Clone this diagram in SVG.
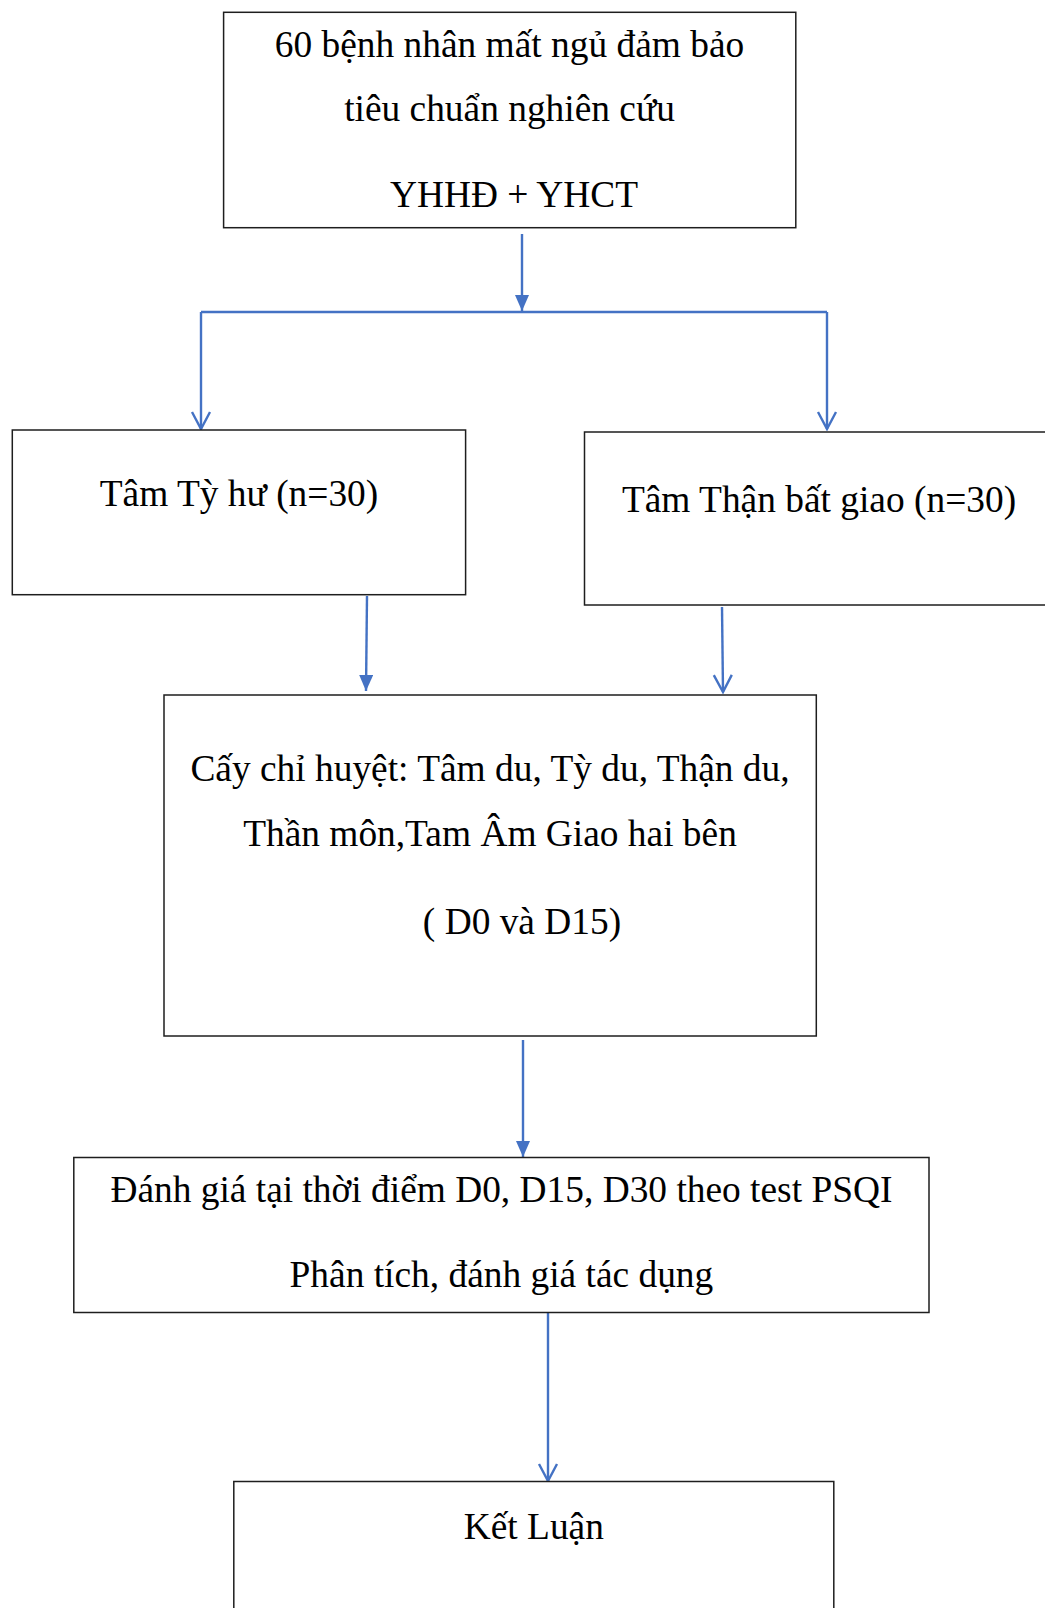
<svg xmlns="http://www.w3.org/2000/svg" width="1045" height="1608" viewBox="0 0 1045 1608">
<style>
.box{fill:#fff;stroke:#1e1e1e;stroke-width:1.5}
.t{font-family:"Liberation Serif","Times New Roman",serif;font-size:37.4px;fill:#000;text-anchor:middle}
.c{stroke:#4472C4;stroke-width:2.4;fill:none}
</style>
<defs>
<marker id="fill" markerUnits="userSpaceOnUse" markerWidth="16" markerHeight="14" refX="16" refY="7" orient="auto">
<path d="M0,0 L16,7 L0,14 z" fill="#4472C4"/>
</marker>
<marker id="open" markerUnits="userSpaceOnUse" markerWidth="20" markerHeight="22" refX="18" refY="11" orient="auto">
<path d="M1,2 L18,11 L1,20" fill="none" stroke="#4472C4" stroke-width="2.4"/>
</marker>
</defs>
<rect width="1045" height="1608" fill="#fff"/>
<g id="connectors">
<line class="c" x1="522" y1="234" x2="522" y2="311" marker-end="url(#fill)"/>
<line class="c" x1="201" y1="312" x2="827" y2="312"/>
<line class="c" x1="201" y1="312" x2="201" y2="429" marker-end="url(#open)"/>
<line class="c" x1="827" y1="312" x2="827" y2="429" marker-end="url(#open)"/>
<line class="c" x1="367" y1="596" x2="366" y2="691" marker-end="url(#fill)"/>
<line class="c" x1="722" y1="607" x2="723" y2="692" marker-end="url(#open)"/>
<line class="c" x1="523" y1="1040" x2="523" y2="1157" marker-end="url(#fill)"/>
<line class="c" x1="548" y1="1308" x2="548" y2="1481" marker-end="url(#open)"/>
</g>
<g id="n1">
<rect class="box" x="223.6" y="12.3" width="572.2" height="215.4"/>
<text class="t" x="509.5" y="56.5">60 bệnh nhân mất ngủ đảm bảo</text>
<text class="t" x="509.5" y="120.5">tiêu chuẩn nghiên cứu</text>
<text class="t" x="514" y="206.5">YHHĐ + YHCT</text>
</g>
<g id="n2">
<rect class="box" x="12.3" y="430" width="453.3" height="164.7"/>
<text class="t" x="239" y="505.5">Tâm Tỳ hư (n=30)</text>
</g>
<g id="n3">
<rect class="box" x="584.5" y="432" width="470" height="173"/>
<text class="t" x="819" y="512">Tâm Thận bất giao (n=30)</text>
</g>
<g id="n4">
<rect class="box" x="164" y="695" width="652.3" height="341"/>
<text class="t" x="490" y="780.5">Cấy chỉ huyệt: Tâm du, Tỳ du, Thận du,</text>
<text class="t" x="490" y="845.5">Thần môn,Tam Âm Giao hai bên</text>
<text class="t" x="522" y="933.5">( D0 và D15)</text>
</g>
<g id="n5">
<rect class="box" x="73.8" y="1157.5" width="855.2" height="155"/>
<text class="t" x="501.4" y="1202">Đánh giá tại thời điểm D0, D15, D30 theo test PSQI</text>
<text class="t" x="501.4" y="1287">Phân tích, đánh giá tác dụng</text>
</g>
<g id="n6">
<rect class="box" x="233.8" y="1481.5" width="600" height="140"/>
<text class="t" x="533.8" y="1538.5">Kết Luận</text>
</g>
</svg>
